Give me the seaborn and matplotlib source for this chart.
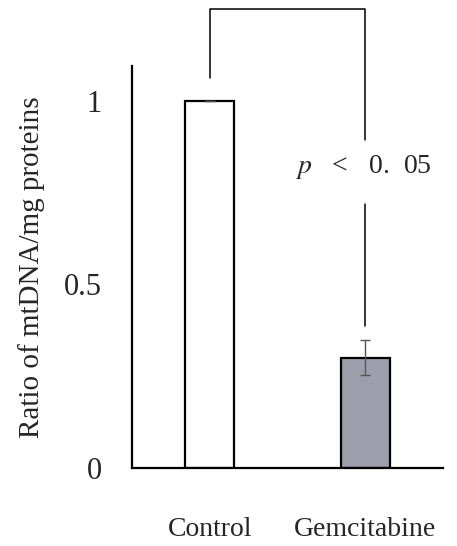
import matplotlib
matplotlib.use("Agg")
import matplotlib.pyplot as plt
import seaborn as sns
import pandas as pd

# values
groups = ["Control", "Gemcitabine"]
ratios = [1.0, 0.30]
errors = [0.0, 0.048]
bar_colors = ["#ffffff", "#9a9cad"]
y_ticks = [0, 0.5, 1]
y_tick_labels = ["0", "0.5", "1"]
p_label = r"$\it{p}$   <   0.  05"

sns.set_style("white")
plt.rcParams["font.family"] = ["Liberation Serif", "DejaVu Serif"]
plt.rcParams["mathtext.fontset"] = "stix"

df = pd.DataFrame({"group": groups, "ratio": ratios})

fig = plt.figure(figsize=(4.57, 5.46), dpi=100)
ax = fig.add_axes([0.289, 0.143, 0.68, 0.736])

sns.barplot(data=df, x="group", y="ratio", hue="group", palette=bar_colors,
            width=0.315, edgecolor="black", linewidth=1.6, legend=False,
            errorbar=None, ax=ax)
ax.errorbar(range(len(groups)), ratios, yerr=errors, fmt="none",
            ecolor="#555555", elinewidth=1.0, capsize=3.5, capthick=1.0)

ax.set_xlim(-0.5, 1.5)
ax.set_ylim(0, 1.095)
ax.set_yticks(y_ticks)
ax.set_yticklabels(y_tick_labels, fontsize=22)
ax.tick_params(axis="y", direction="in", length=5, width=1.5, pad=22)
ax.tick_params(axis="x", length=0, pad=35, labelsize=20)
ax.set_xlabel("")
ax.set_ylabel("Ratio of mtDNA/mg proteins", fontsize=21, labelpad=13)
sns.despine(ax=ax)
for side in ["left", "bottom"]:
    ax.spines[side].set_linewidth(1.6)
    ax.spines[side].set_color("black")

# significance bracket
kw = dict(color="black", linewidth=1.1, clip_on=False)
ax.plot([0, 0, 1, 1], [1.063, 1.25, 1.25, 0.894], **kw)
ax.plot([1, 1], [0.719, 0.387], **kw)
ax.text(0.99, 0.82, p_label, ha="center", va="center", fontsize=20)

fig.savefig("out.png", dpi=100)
